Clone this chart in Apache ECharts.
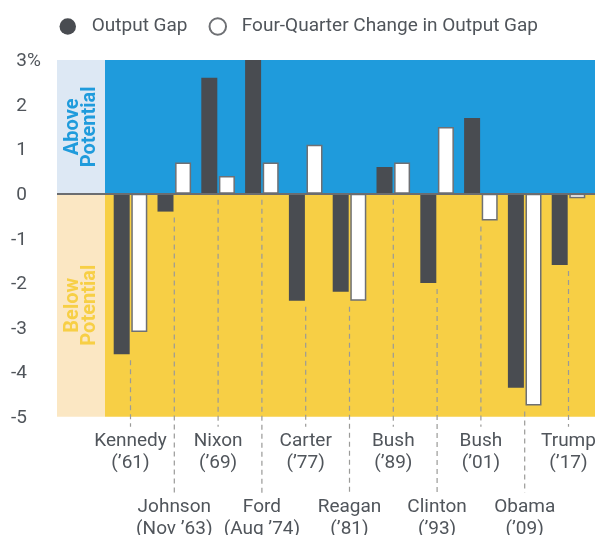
<!DOCTYPE html>
<html>
<head>
<meta charset="utf-8">
<script src="https://cdn.jsdelivr.net/npm/echarts@6/dist/echarts.min.js"></script>
<style>
html,body{margin:0;padding:0;background:#fff;}
#c{width:595px;height:535px;}
</style>
</head>
<body>
<div id="c"></div>
<script>
const categories = ['Kennedy\n(’61)', 'Johnson\n(Nov ’63)', 'Nixon\n(’69)', 'Ford\n(Aug ’74)', 'Carter\n(’77)', 'Reagan\n(’81)', 'Bush\n(’89)', 'Clinton\n(’93)', 'Bush\n(’01)', 'Obama\n(’09)', 'Trump\n(’17)'];
const outputGap = [-3.6, -0.4, 2.6, 3.0, -2.4, -2.2, 0.6, -2.0, 1.7, -4.35, -1.6];
const fourQuarterChange = [-3.1, 0.7, 0.4, 0.7, 1.1, -2.4, 0.7, 1.5, -0.6, -4.75, -0.1];
const yMin = -5, yMax = 3, yStep = 1;
const bandLabels = ['Above\nPotential', 'Below\nPotential'];

const FONT = 'Roboto, sans-serif';
const TXT = '#50555b';
const BLUE = '#1f9bdc', LBLUE = '#dde8f4', YEL = '#f7cf45', LYEL = '#fbe7c3';
const SPLIT = 48; // width of the label column in px units of grid 0

const chart = echarts.init(document.getElementById('c'), null, {renderer: 'canvas'});

const dashData = categories.map((c, i) => [i, Math.min(0, outputGap[i], fourQuarterChange[i]), i % 2]);

chart.setOption({
  animation: false,
  textStyle: {fontFamily: FONT},
  legend: {
    left: 54.5, top: 12,
    itemWidth: 38, itemHeight: 16.5, itemGap: 21,
    icon: 'circle',
    textStyle: {fontFamily: FONT, fontSize: 19, color: TXT},
    data: ['Output Gap', 'Four-Quarter Change in Output Gap']
  },
  grid: [
    {left: 57, right: 0, top: 60, bottom: 118.3, outerBoundsMode: 'none', containLabel: false},
    {left: 108.6, right: 4.6, top: 60, bottom: 118.3, outerBoundsMode: 'none', containLabel: false}
  ],
  xAxis: [
    {gridIndex: 0, type: 'value', min: 0, max: 538, show: false},
    {gridIndex: 1, type: 'category', data: categories,
     axisLine: {show: false}, axisTick: {show: false},
     axisLabel: {interval: 0, margin: 14, fontFamily: FONT, fontSize: 19, lineHeight: 22, color: TXT,
       formatter: (v, i) => (i % 2 ? '\n\n\n' : '') + v}}
  ],
  yAxis: [
    {gridIndex: 0, type: 'value', min: yMin, max: yMax, interval: yStep,
     axisLine: {show: false}, axisTick: {show: false}, splitLine: {show: false},
     axisLabel: {align: 'left', margin: 45, color: TXT, fontFamily: FONT, fontSize: 19,
       formatter: v => v === yMax ? '{n|' + v + '}{p|%}' : '{n|' + v + '}',
       rich: {n: {width: 15, align: 'right', fontSize: 19, fontFamily: FONT, color: TXT, padding: [3, 0, 0, 0]},
              p: {align: 'right', fontSize: 19, fontFamily: FONT, color: TXT, padding: [3, 0, 0, 0]}}}},
    {gridIndex: 1, type: 'value', min: yMin, max: yMax, interval: yStep, show: false}
  ],
  series: [
    {
      type: 'line', xAxisIndex: 0, yAxisIndex: 0, data: [], silent: true,
      markArea: {
        silent: true,
        data: [
          [{xAxis: 0, yAxis: 0, itemStyle: {color: LBLUE},
            label: {show: true, position: 'inside', rotate: 90, formatter: bandLabels[0], color: BLUE,
                    fontFamily: FONT, fontWeight: 'bold', fontSize: 20, lineHeight: 17}},
           {xAxis: SPLIT, yAxis: yMax}],
          [{xAxis: SPLIT, yAxis: 0, itemStyle: {color: BLUE}, label: {show: false}}, {xAxis: 538, yAxis: yMax}],
          [{xAxis: 0, yAxis: yMin, itemStyle: {color: LYEL},
            label: {show: true, position: 'inside', rotate: 90, formatter: bandLabels[1], color: YEL,
                    fontFamily: FONT, fontWeight: 'bold', fontSize: 20, lineHeight: 17}},
           {xAxis: SPLIT, yAxis: 0}],
          [{xAxis: SPLIT, yAxis: yMin, itemStyle: {color: YEL}, label: {show: false}}, {xAxis: 538, yAxis: 0}]
        ]
      },
      markLine: {
        silent: true, symbol: 'none', label: {show: false},
        lineStyle: {color: '#6b6d70', width: 2, type: 'solid'},
        data: [{yAxis: 0}]
      }
    },
    {
      type: 'custom', xAxisIndex: 1, yAxisIndex: 1, silent: true, z: 1,
      data: dashData,
      renderItem: (params, api) => {
        const p = api.coord([api.value(0), api.value(1)]);
        const b = api.coord([api.value(0), yMin]);
        const endY = b[1] + (api.value(2) ? 76 : 10);
        return {type: 'line', shape: {x1: p[0], y1: p[1] + 6, x2: p[0], y2: endY},
                style: {stroke: '#9a9a98', lineWidth: 1.2, lineDash: [5, 4]}};
      }
    },
    {
      name: 'Output Gap', type: 'bar', xAxisIndex: 1, yAxisIndex: 1, data: outputGap,
      barWidth: 16, barGap: '10%', z: 3,
      itemStyle: {color: '#494c51'}
    },
    {
      name: 'Four-Quarter Change in Output Gap', type: 'bar', xAxisIndex: 1, yAxisIndex: 1, data: fourQuarterChange,
      barWidth: 16, z: 3,
      itemStyle: {color: '#ffffff', borderColor: '#6e7074', borderWidth: 1.5}
    }
  ]
});
</script>
</body>
</html>
